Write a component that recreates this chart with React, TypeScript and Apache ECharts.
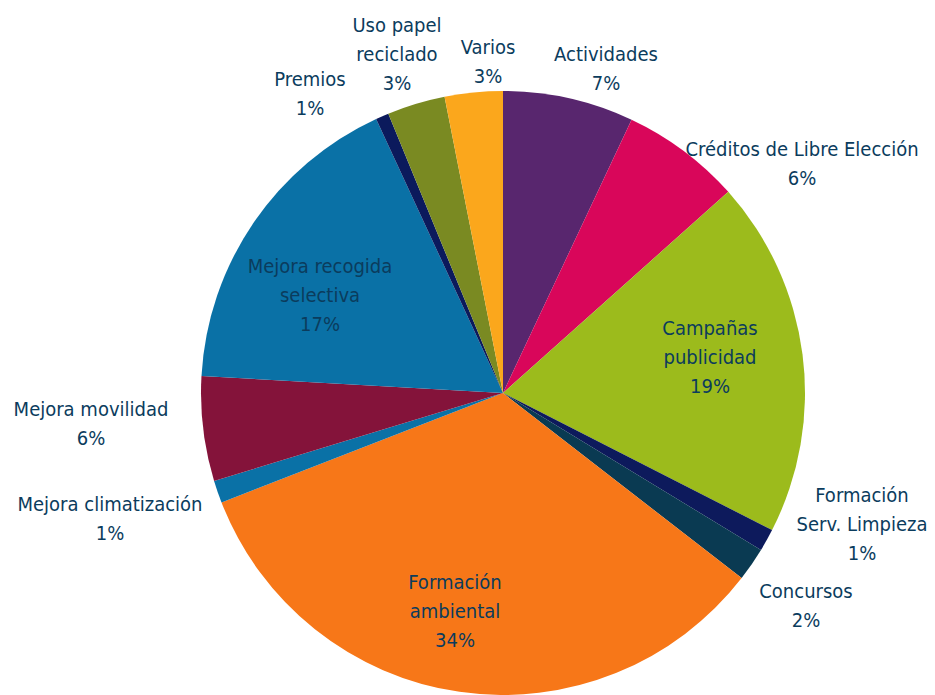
import React, { useEffect, useRef } from "react";
import * as echarts from "echarts";

const categories = [
  "Actividades",
  "Créditos de Libre Elección",
  "Campañas\npublicidad",
  "Formación\nServ. Limpieza",
  "Concursos",
  "Formación\nambiental",
  "Mejora climatización",
  "Mejora movilidad",
  "Mejora recogida\nselectiva",
  "Premios",
  "Uso papel\nreciclado",
  "Varios",
];
const values = [7.0, 6.4, 19.1, 1.2, 1.8, 33.6, 1.2, 5.6, 17.2, 0.7, 3.1, 3.1];
const colors = [
  "#58266e", "#d9065a", "#9cbb1c", "#0d1a5c", "#0a3a52", "#f77718",
  "#0a71a6", "#84133a", "#0a71a6", "#0b1a5c", "#7a8a22", "#fba71c",
];

// label centre positions (layout only)
const labelPos: [number, number][] = [
  [606, 68], [802, 163], [710, 357], [862, 524], [806, 605], [455, 611],
  [110, 518], [91, 423], [320, 295], [310, 93], [397, 54], [488, 61],
];

export default function App() {
  const ref = useRef<HTMLDivElement>(null);
  useEffect(() => {
    const chart = echarts.init(ref.current!, undefined, { renderer: "svg" });
    chart.setOption({
      animation: false,
      backgroundColor: "#ffffff",
      series: [
        {
          type: "pie",
          center: [503, 393],
          radius: 302,
          startAngle: 90,
          clockwise: true,
          percentPrecision: 0,
          data: categories.map((name, i) => ({
            name,
            value: values[i],
            itemStyle: { color: colors[i] },
          })),
          itemStyle: { borderWidth: 0 },
          label: {
            show: true,
            position: "inside",
            formatter: "{b}\n{d}%",
            color: "#0b3c5d",
            fontSize: 20,
            lineHeight: 29,
            fontFamily: "'DejaVu Sans Condensed', sans-serif",
            align: "center",
          },
          labelLine: { show: false },
          labelLayout: (params: any) => {
            const p = labelPos[params.dataIndex];
            return { x: p[0], y: p[1], align: "center", verticalAlign: "middle" };
          },
          emphasis: { disabled: true },
        },
      ],
    });
    return () => chart.dispose();
  }, []);
  return (
    <div
      ref={ref}
      style={{ position: "fixed", left: 0, top: 0, width: 935, height: 695 }}
    />
  );
}
